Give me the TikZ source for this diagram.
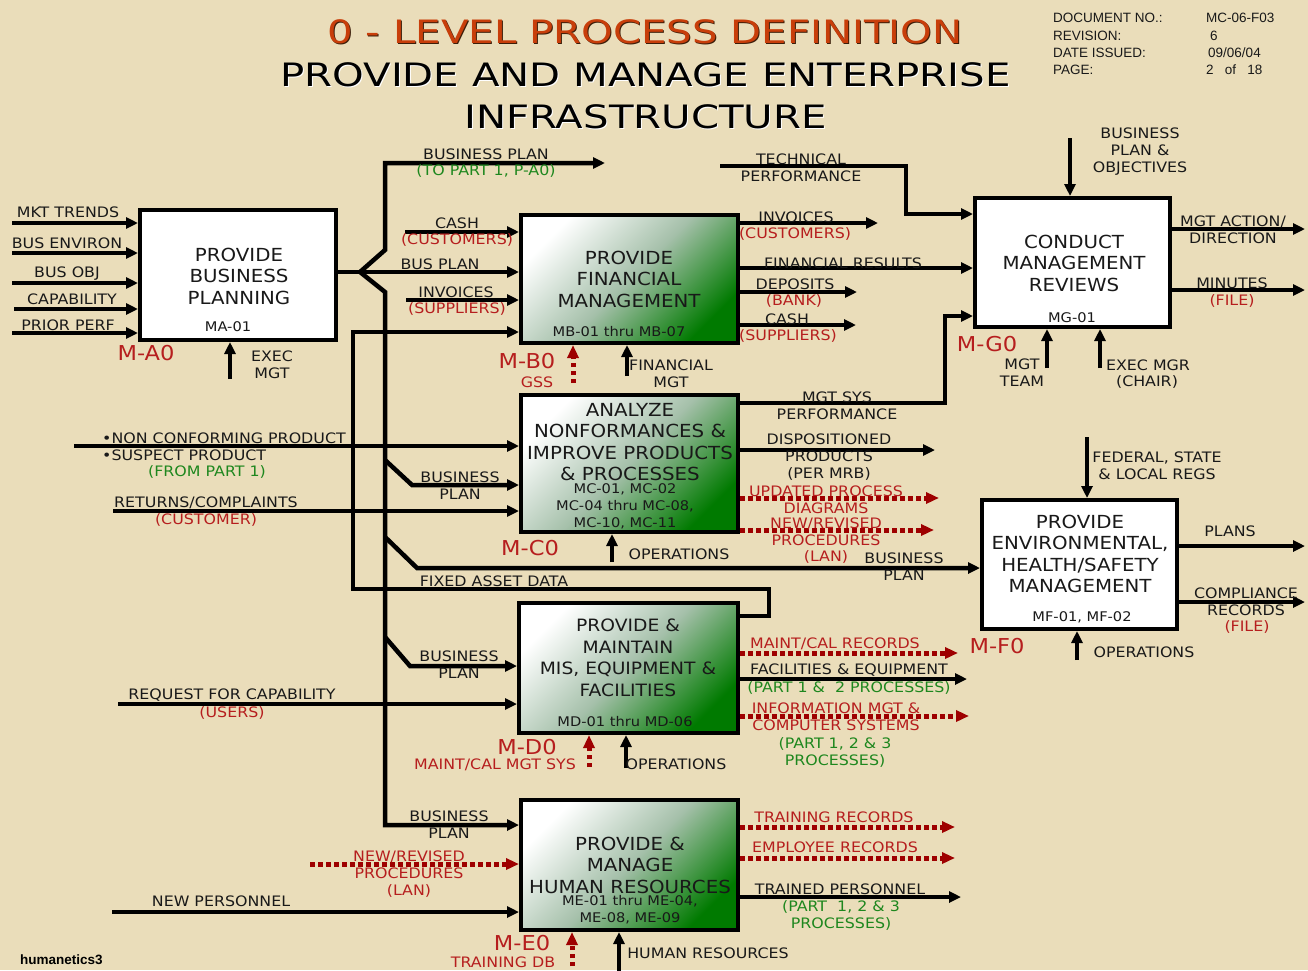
\documentclass[tikz,border=0pt]{standalone}
\usepackage{fontspec}
\setmainfont{DejaVu Sans}[FakeStretch=1.1]
\newfontfamily\titlefont{DejaVu Sans}[FakeStretch=1.25]
\newfontfamily\docfont{Liberation Sans}
\usetikzlibrary{arrows.meta}

\definecolor{paper}{RGB}{234,221,186}
\definecolor{ink}{RGB}{25,25,25}
\definecolor{txtred}{RGB}{182,30,30}
\definecolor{dotred}{RGB}{158,0,0}
\definecolor{txtgreen}{RGB}{30,135,30}
\definecolor{titleorange}{RGB}{200,62,10}
\definecolor{titleshadow}{RGB}{60,30,10}
\definecolor{boxgreen}{RGB}{0,122,0}
\definecolor{boxmid}{RGB}{165,192,170}

\begin{document}
\begin{tikzpicture}[x=1pt,y=-1pt,
  lbl/.style={inner sep=0pt, align=center, text=ink, font=\fontsize{14.4}{17}\selectfont},
  rl/.style={lbl, text=txtred},
  gl/.style={lbl, text=txtgreen},
  boxttl/.style={inner sep=0pt, align=center, text=ink, font=\fontsize{18}{21.5}\selectfont},
  boxcode/.style={inner sep=0pt, align=center, text=ink, font=\fontsize{13.3}{17}\selectfont},
  tag/.style={inner sep=0pt, text=txtred, font=\fontsize{20.5}{24}\selectfont},
  ttl/.style={inner sep=0pt, font=\titlefont\fontsize{32.2}{38}\selectfont},
  doc/.style={inner sep=0pt, anchor=west, text=ink, font=\docfont\fontsize{13.5}{16}\selectfont},
  plainbox/.style={draw=black, line width=4pt, fill=white, inner sep=0pt},
  greenbox/.style={draw=black, line width=4pt, inner sep=0pt,
    top color=white, bottom color=boxgreen, middle color=boxmid, shading angle=45},
  wire/.style={line width=4.5pt, draw=black},
  flow/.style={wire, -{Triangle[length=12pt,width=11pt]}},
  dotflow/.style={line width=5pt, draw=dotred, dash pattern=on 4.5pt off 3.5pt,
    -{Triangle[length=13pt,width=11pt,fill=dotred]}},
]
\fill[paper] (0,0) rectangle (1308,970);
\useasboundingbox (0,0) rectangle (1308,970);

% ---------- heading ----------
\node[ttl, text=titleshadow] at (646,33) {0 - LEVEL PROCESS DEFINITION};
\node[ttl, text=titleorange] (title1) at (645,32) {0 - LEVEL PROCESS DEFINITION};
\node[ttl, text=white] at (646.5,76) {PROVIDE AND MANAGE ENTERPRISE};
\node[ttl, text=black] (title2) at (645.5,75) {PROVIDE AND MANAGE ENTERPRISE};
\node[ttl, text=white] at (646.5,118) {INFRASTRUCTURE};
\node[ttl, text=black] (title3) at (645.5,117) {INFRASTRUCTURE};

\node[doc] (docno) at (1053,18) {DOCUMENT NO.:};
\node[doc] (rev) at (1053,36) {REVISION:};
\node[doc] (date) at (1053,53) {DATE ISSUED:};
\node[doc] (page) at (1053,70) {PAGE:};
\node[doc] (docnov) at (1206,18) {MC-06-F03};
\node[doc] (revv) at (1210,36) {6};
\node[doc] (datev) at (1208,53) {09/06/04};
\node[doc] (pagev) at (1206,70) {2\ \ \ of\ \ \ 18};
\node[doc, font=\docfont\bfseries\fontsize{13.5}{16}\selectfont, text=black] (logo) at (20,960) {humanetics3};

% ---------- activity boxes ----------
\node[plainbox, minimum width=196pt, minimum height=130pt] (A) at (238,275) {};
\node[greenbox, minimum width=217pt, minimum height=128pt] (B) at (629.5,279) {};
\node[greenbox, minimum width=217pt, minimum height=137pt] (C) at (629.5,463.5) {};
\node[greenbox, minimum width=219pt, minimum height=130pt] (D) at (628.5,668) {};
\node[greenbox, minimum width=217pt, minimum height=130pt] (E) at (629.5,865) {};
\node[plainbox, minimum width=195pt, minimum height=129pt] (F) at (1079.5,564.5) {};
\node[plainbox, minimum width=195pt, minimum height=129pt] (G) at (1072.5,262.5) {};

\node[boxttl] (Atxt) at (239,276) {PROVIDE\\BUSINESS\\PLANNING};
\node[boxcode] (Acode) at (228,327) {MA-01};
\node[boxttl] (Btxt) at (629,279) {PROVIDE\\FINANCIAL\\MANAGEMENT};
\node[boxcode] (Bcode) at (619,332) {MB-01 thru MB-07};
\node[boxttl] (Ctxt) at (630,442) {ANALYZE\\NONFORMANCES \&\\IMPROVE PRODUCTS\\\& PROCESSES};
\node[boxcode] (Ccode) at (625,506) {MC-01, MC-02\\MC-04 thru MC-08,\\MC-10, MC-11};
\node[boxttl, font=\fontsize{17}{21.5}\selectfont] (Dtxt) at (628,658) {PROVIDE \&\\MAINTAIN\\MIS, EQUIPMENT \&\\FACILITIES};
\node[boxcode] (Dcode) at (625,722) {MD-01 thru MD-06};
\node[boxttl] (Etxt) at (630,865) {PROVIDE \&\\MANAGE\\HUMAN RESOURCES};
\node[boxcode] (Ecode) at (630,910) {ME-01 thru ME-04,\\ME-08, ME-09};
\node[boxttl] (Ftxt) at (1080,554) {PROVIDE\\ENVIRONMENTAL,\\HEALTH/SAFETY\\MANAGEMENT};
\node[boxcode] (Fcode) at (1082,617) {MF-01, MF-02};
\node[boxttl] (Gtxt) at (1074,263) {CONDUCT\\MANAGEMENT\\REVIEWS};
\node[boxcode] (Gcode) at (1072,318) {MG-01};

\node[tag] (Atag) at (146,353) {M-A0};
\node[tag] (Btag) at (527,361) {M-B0};
\node[tag] (Ctag) at (530,548) {M-C0};
\node[tag] (Dtag) at (527,747) {M-D0};
\node[tag] (Etag) at (522,943) {M-E0};
\node[tag] (Ftag) at (997,646) {M-F0};
\node[tag] (Gtag) at (987,344) {M-G0};

% ---------- business planning inputs ----------
\coordinate (mkt) at (12,223);
\coordinate (env) at (12,253);
\coordinate (obj) at (12,283);
\coordinate (cap) at (14,309);
\coordinate (prior) at (12,333);
\foreach \p in {mkt,env,obj,cap,prior} \draw[flow] (\p) -- (\p -| A.west);
\node[lbl] at (68,212) {MKT TRENDS};
\node[lbl] at (67,243) {BUS ENVIRON};
\node[lbl] at (67,274) {BUS OBJ};
\node[lbl] at (72,299) {CAPABILITY};
\node[lbl] at (68,325) {PRIOR PERF};
\coordinate (aExec) at (230,379);
\draw[flow] (aExec) -- (aExec |- A.south);
\node[lbl] at (272,365) {EXEC\\MGT};

% ---------- business plan distribution ----------
\coordinate (split) at (360,272);
\coordinate (bpTo) at (605,163);
\coordinate (trunkE) at (385,825);
\draw[wire] (split -| A.east) -- (split);
\draw[flow] (split) -- (385,250) -- (385,163) -- (bpTo);
\draw[flow] (split) -- (split -| B.west);
\draw[flow] (split) -- (385,292) -- (trunkE) -- (trunkE -| E.west);
\coordinate (toC) at (412,485);
\draw[flow] (385,460) -- (toC) -- (toC -| C.west);
\coordinate (toF) at (417,568);
\draw[flow] (385,537) -- (toF) -- (toF -| F.west);
\coordinate (toD) at (410,666);
\draw[flow] (385,637) -- (toD) -- (toD -| D.west);

\node[lbl] at (486,154) {BUSINESS PLAN};
\node[gl] at (486,171) {(TO PART 1, P-A0)};
\node[lbl] at (440,264) {BUS PLAN};
\node[lbl] at (460,486) {BUSINESS\\PLAN};
\node[lbl] at (904,566.5) {BUSINESS\\PLAN};
\node[lbl] at (459,665) {BUSINESS\\PLAN};
\node[lbl] at (449,825) {BUSINESS\\PLAN};

% ---------- financial management ----------
\coordinate (cashIn) at (405,232);
\draw[flow] (cashIn) -- (cashIn -| B.west);
\node[lbl] at (457,223) {CASH};
\node[rl] at (457,240) {(CUSTOMERS)};
\coordinate (invIn) at (406,300);
\draw[flow] (invIn) -- (invIn -| B.west);
\node[lbl] at (456,292) {INVOICES};
\node[rl] at (457,309) {(SUPPLIERS)};

\coordinate (faA) at (769,616);
\coordinate (faB) at (769,589);
\coordinate (faC) at (353,589);
\coordinate (faD) at (353,332);
\draw[flow] (faA -| D.east) -- (faA) -- (faB) -- (faC) -- (faD) -- (faD -| B.west);
\node[lbl] at (494,581) {FIXED ASSET DATA};

\coordinate (invOut) at (878,223);
\draw[flow] (invOut -| B.east) -- (invOut);
\node[lbl] at (796,217) {INVOICES};
\node[rl] at (795,234) {(CUSTOMERS)};
\coordinate (finres) at (850,268);
\draw[flow] (finres -| B.east) -- (finres -| G.west);
\node[lbl] at (843,263) {FINANCIAL RESULTS};
\coordinate (depo) at (857,292);
\draw[flow] (depo -| B.east) -- (depo);
\node[lbl] at (795,284) {DEPOSITS};
\node[rl] at (794,301) {(BANK)};
\coordinate (cashOut) at (856,325);
\draw[flow] (cashOut -| B.east) -- (cashOut);
\node[lbl] at (787,319) {CASH};
\node[rl] at (788,336) {(SUPPLIERS)};

\coordinate (bGss) at (573,383);
\draw[dotflow] (bGss) -- (bGss |- B.south);
\node[rl] at (537,382) {GSS};
\coordinate (bFin) at (627,376);
\draw[flow] (bFin) -- (bFin |- B.south);
\node[lbl] at (671,374) {FINANCIAL\\MGT};

% ---------- management reviews ----------
\coordinate (tp0) at (720,166);
\coordinate (tp1) at (906,166);
\coordinate (tp2) at (906,214);
\draw[flow] (tp0) -- (tp1) -- (tp2) -- (tp2 -| G.west);
\node[lbl] at (801,168) {TECHNICAL\\PERFORMANCE};
\coordinate (ms1) at (945,403);
\coordinate (ms2) at (945,316);
\draw[flow] (ms1 -| C.east) -- (ms1) -- (ms2) -- (ms2 -| G.west);
\node[lbl] at (837,405.5) {MGT SYS\\PERFORMANCE};
\coordinate (gTop) at (1070,138);
\draw[flow] (gTop) -- (gTop |- G.north);
\node[lbl] at (1140,152) {BUSINESS\\PLAN \&\\OBJECTIVES};
\coordinate (gTeam) at (1047,368);
\draw[flow] (gTeam) -- (gTeam |- G.south);
\node[lbl] at (1022,373) {MGT\\TEAM};
\coordinate (gExec) at (1100,368);
\draw[flow] (gExec) -- (gExec |- G.south);
\node[lbl] at (1148,365) {EXEC MGR};
\node[lbl] at (1147,382) {(CHAIR)};
\coordinate (gAct) at (1305,229);
\draw[flow] (gAct -| G.east) -- (gAct);
\node[lbl] at (1233,229.5) {MGT ACTION/\\DIRECTION};
\coordinate (gMin) at (1305,290);
\draw[flow] (gMin -| G.east) -- (gMin);
\node[lbl] at (1232,283) {MINUTES};
\node[rl] at (1232,301) {(FILE)};

% ---------- nonconformance analysis ----------
\coordinate (ncp) at (74,446);
\draw[flow] (ncp) -- (ncp -| C.west);
\node[lbl, anchor=west] at (102,438) {•NON CONFORMING PRODUCT};
\node[lbl, anchor=west] at (102,455) {•SUSPECT PRODUCT};
\node[gl] at (207,472) {(FROM PART 1)};
\coordinate (ret) at (113,511);
\draw[flow] (ret) -- (ret -| C.west);
\node[lbl] at (206,503) {RETURNS/COMPLAINTS};
\node[rl] at (206,520) {(CUSTOMER)};

\coordinate (disp) at (935,450);
\draw[flow] (disp -| C.east) -- (disp);
\node[lbl] at (829,457.5) {DISPOSITIONED\\PRODUCTS\\(PER MRB)};
\coordinate (upd) at (939,498);
\draw[dotflow] (upd -| C.east) -- (upd);
\node[rl] at (826,491) {UPDATED PROCESS};
\node[rl] at (826,508.5) {DIAGRAMS};
\coordinate (nrC) at (934,530);
\draw[dotflow] (nrC -| C.east) -- (nrC);
\node[rl] at (826,531.5) {NEW/REVISED\\PROCEDURES};
\node[rl] at (826,557) {(LAN)};
\coordinate (cOps) at (612,562);
\draw[flow] (cOps) -- (cOps |- C.south);
\node[lbl] at (679,554) {OPERATIONS};

% ---------- environmental, health and safety ----------
\coordinate (fTop) at (1087,437);
\draw[flow] (fTop) -- (fTop |- F.north);
\node[lbl] at (1157,465.5) {FEDERAL, STATE\\\& LOCAL REGS};
\coordinate (fOps) at (1077,660);
\draw[flow] (fOps) -- (fOps |- F.south);
\node[lbl] at (1144,652) {OPERATIONS};
\coordinate (plans) at (1305,546);
\draw[flow] (plans -| F.east) -- (plans);
\node[lbl] at (1230,531) {PLANS};
\coordinate (compl) at (1305,602);
\draw[flow] (compl -| F.east) -- (compl);
\node[lbl] at (1246,601.5) {COMPLIANCE\\RECORDS};
\node[rl] at (1247,627) {(FILE)};

% ---------- MIS, equipment and facilities ----------
\coordinate (req) at (118,704);
\draw[flow] (req) -- (req -| D.west);
\node[lbl] at (232,695) {REQUEST FOR CAPABILITY};
\node[rl] at (232,713) {(USERS)};
\coordinate (mcr) at (958,653);
\draw[dotflow] (mcr -| D.east) -- (mcr);
\node[rl] at (835,644) {MAINT/CAL RECORDS};
\coordinate (fac) at (967,679);
\draw[flow] (fac -| D.east) -- (fac);
\node[lbl] at (849,670) {FACILITIES \& EQUIPMENT};
\node[gl] at (849,688) {(PART 1 \&\ \ 2 PROCESSES)};
\coordinate (imc) at (969,716);
\draw[dotflow] (imc -| D.east) -- (imc);
\node[rl] at (836,717) {INFORMATION MGT \&\\COMPUTER SYSTEMS};
\node[gl] at (835,752.5) {(PART 1, 2 \& 3\\PROCESSES)};
\coordinate (dMnt) at (589,767);
\draw[dotflow] (dMnt) -- (dMnt |- D.south);
\node[rl] at (495,765) {MAINT/CAL MGT SYS};
\coordinate (dOps) at (626,768);
\draw[flow] (dOps) -- (dOps |- D.south);
\node[lbl] at (676,764) {OPERATIONS};

% ---------- human resources ----------
\coordinate (nrE) at (310,864);
\draw[dotflow] (nrE) -- (nrE -| E.west);
\node[rl] at (409,874) {NEW/REVISED\\PROCEDURES\\(LAN)};
\coordinate (newp) at (112,912);
\draw[flow] (newp) -- (newp -| E.west);
\node[lbl] at (221,901) {NEW PERSONNEL};
\coordinate (trr) at (955,827);
\draw[dotflow] (trr -| E.east) -- (trr);
\node[rl] at (834,817) {TRAINING RECORDS};
\coordinate (emp) at (955,858);
\draw[dotflow] (emp -| E.east) -- (emp);
\node[rl] at (835,847) {EMPLOYEE RECORDS};
\coordinate (trp) at (961,897);
\draw[flow] (trp -| E.east) -- (trp);
\node[lbl] at (840,889) {TRAINED PERSONNEL};
\node[gl] at (841,915.5) {(PART\ \ 1, 2 \& 3\\PROCESSES)};
\coordinate (eTdb) at (572,966);
\draw[dotflow] (eTdb) -- (eTdb |- E.south);
\node[rl] at (503,962) {TRAINING DB};
\coordinate (eHr) at (619,972);
\draw[flow] (eHr) -- (eHr |- E.south);
\node[lbl] at (708,953) {HUMAN RESOURCES};
\end{tikzpicture}
\end{document}
